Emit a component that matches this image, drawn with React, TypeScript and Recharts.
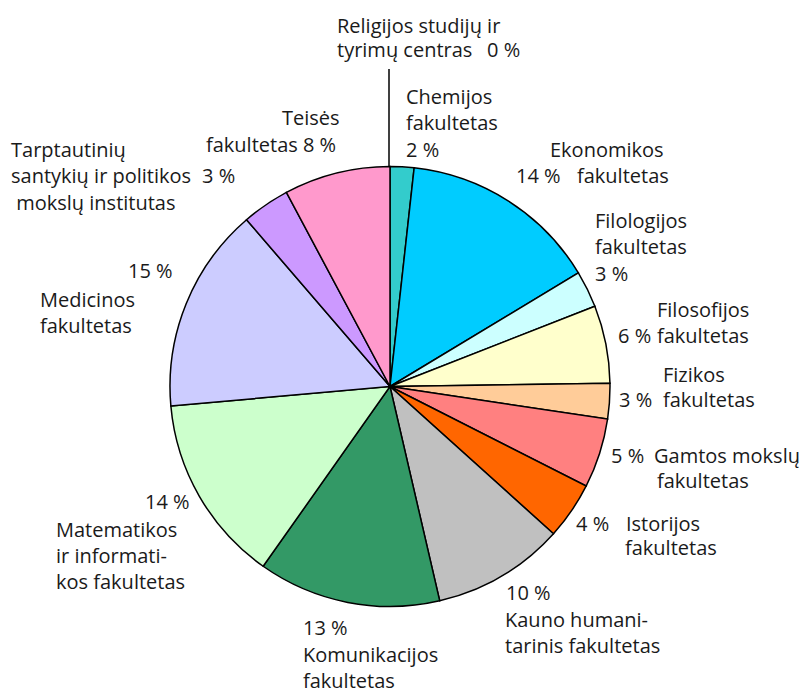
import React from 'react';
import { PieChart, Pie, Cell } from 'recharts';

const categories = [
  'Religijos studijų ir tyrimų centras',
  'Chemijos fakultetas',
  'Ekonomikos fakultetas',
  'Filologijos fakultetas',
  'Filosofijos fakultetas',
  'Fizikos fakultetas',
  'Gamtos mokslų fakultetas',
  'Istorijos fakultetas',
  'Kauno humanitarinis fakultetas',
  'Komunikacijos fakultetas',
  'Matematikos ir informatikos fakultetas',
  'Medicinos fakultetas',
  'Tarptautinių santykių ir politikos mokslų institutas',
  'Teisės fakultetas',
];

const values = [0, 1.75, 14.6, 2.7, 5.7, 2.6, 5.1, 4.2, 9.7, 13.4, 13.8, 15.1, 3.5, 7.8];

const pctLabels = ['0 %', '2 %', '14 %', '3 %', '6 %', '3 %', '5 %', '4 %', '10 %', '13 %', '14 %', '15 %', '3 %', '8 %'];

const colors = [
  '#999999', '#33CCCC', '#00CCFF', '#CCFFFF', '#FFFFCC', '#FFCC99', '#FF8080',
  '#FF6600', '#C0C0C0', '#339966', '#CCFFCC', '#CCCCFF', '#CC99FF', '#FF99CC',
];

const nameLines: string[][] = [
  ['Religijos studijų ir', 'tyrimų centras'],
  ['Chemijos', 'fakultetas'],
  ['Ekonomikos', 'fakultetas'],
  ['Filologijos', 'fakultetas'],
  ['Filosofijos', 'fakultetas'],
  ['Fizikos', 'fakultetas'],
  ['Gamtos mokslų', 'fakultetas'],
  ['Istorijos', 'fakultetas'],
  ['Kauno humani-', 'tarinis fakultetas'],
  ['Komunikacijos', 'fakultetas'],
  ['Matematikos', 'ir informati-', 'kos fakultetas'],
  ['Medicinos', 'fakultetas'],
  ['Tarptautinių', 'santykių ir politikos', ' mokslų institutas'],
  ['Teisės', 'fakultetas'],
];

// label layout: left x / baseline y for each name line, then the percent text
const labelLayout: { lines: [number, number][]; pct: [number, number] }[] = [
  { lines: [[337, 33], [337, 57]], pct: [487, 57] },
  { lines: [[406, 104], [406, 130]], pct: [406, 157] },
  { lines: [[550, 157], [577, 183]], pct: [516, 183] },
  { lines: [[595, 228], [595, 254]], pct: [595, 281] },
  { lines: [[657, 317], [657, 343]], pct: [618, 343] },
  { lines: [[663, 382], [663, 407]], pct: [619, 407] },
  { lines: [[654, 463], [657, 488]], pct: [611, 463] },
  { lines: [[626, 531], [625, 555]], pct: [576, 531] },
  { lines: [[505, 627], [505, 653]], pct: [506, 600] },
  { lines: [[303, 662], [303, 688]], pct: [303, 635] },
  { lines: [[56, 537], [56, 563], [56, 589]], pct: [145, 509] },
  { lines: [[40, 307], [40, 333]], pct: [128, 278] },
  { lines: [[11, 157], [11, 183], [11, 210]], pct: [202, 183] },
  { lines: [[282, 125], [206, 152]], pct: [-1, -1] },
];

const data = categories.map((name, i) => ({ name, value: values[i] }));

const FONT = '"Open Sans", sans-serif';
const FS = 20;

function renderLabel(props: any) {
  const i: number = props.index;
  const lay = labelLayout[i];
  if (!lay) return null;
  const lines = nameLines[i];
  const pieces: React.ReactNode[] = [];
  lines.forEach((ln, k) => {
    let txt = ln;
    if (i === 13 && k === 1) txt = ln + ' ' + pctLabels[i];
    pieces.push(
      <text key={'l' + k} x={lay.lines[k][0]} y={lay.lines[k][1]} fill="#1a1a1a" fontSize={FS} fontFamily={FONT} textAnchor="start" style={{ whiteSpace: 'pre' }}>
        {txt}
      </text>
    );
  });
  if (lay.pct[0] >= 0) {
    pieces.push(
      <text key="p" x={lay.pct[0]} y={lay.pct[1]} fill="#1a1a1a" fontSize={FS} fontFamily={FONT} textAnchor="start">
        {pctLabels[i]}
      </text>
    );
  }
  if (i === 0) {
    const cx = props.cx as number;
    const cy = props.cy as number;
    const r = props.outerRadius as number;
    pieces.push(<line key="ld" x1={cx - 1} y1={cy - r} x2={cx - 1} y2={69} stroke="#000" strokeWidth={1.5} />);
  }
  return <g key={'lab' + i}>{pieces}</g>;
}

export default function App() {
  return (
    <div style={{ position: 'absolute', left: 0, top: 0, background: '#fff' }}>
      <PieChart width={804} height={688} margin={{ top: 0, right: 0, bottom: 0, left: 0 }}>
        <Pie
          data={data}
          dataKey="value"
          nameKey="name"
          cx={390}
          cy={386.5}
          outerRadius={220}
          startAngle={90}
          endAngle={-270}
          stroke="#000"
          strokeWidth={1.5}
          label={renderLabel}
          labelLine={false}
          isAnimationActive={false}
        >
          {data.map((d, i) => (
            <Cell key={d.name} fill={colors[i]} />
          ))}
        </Pie>
      </PieChart>
    </div>
  );
}
